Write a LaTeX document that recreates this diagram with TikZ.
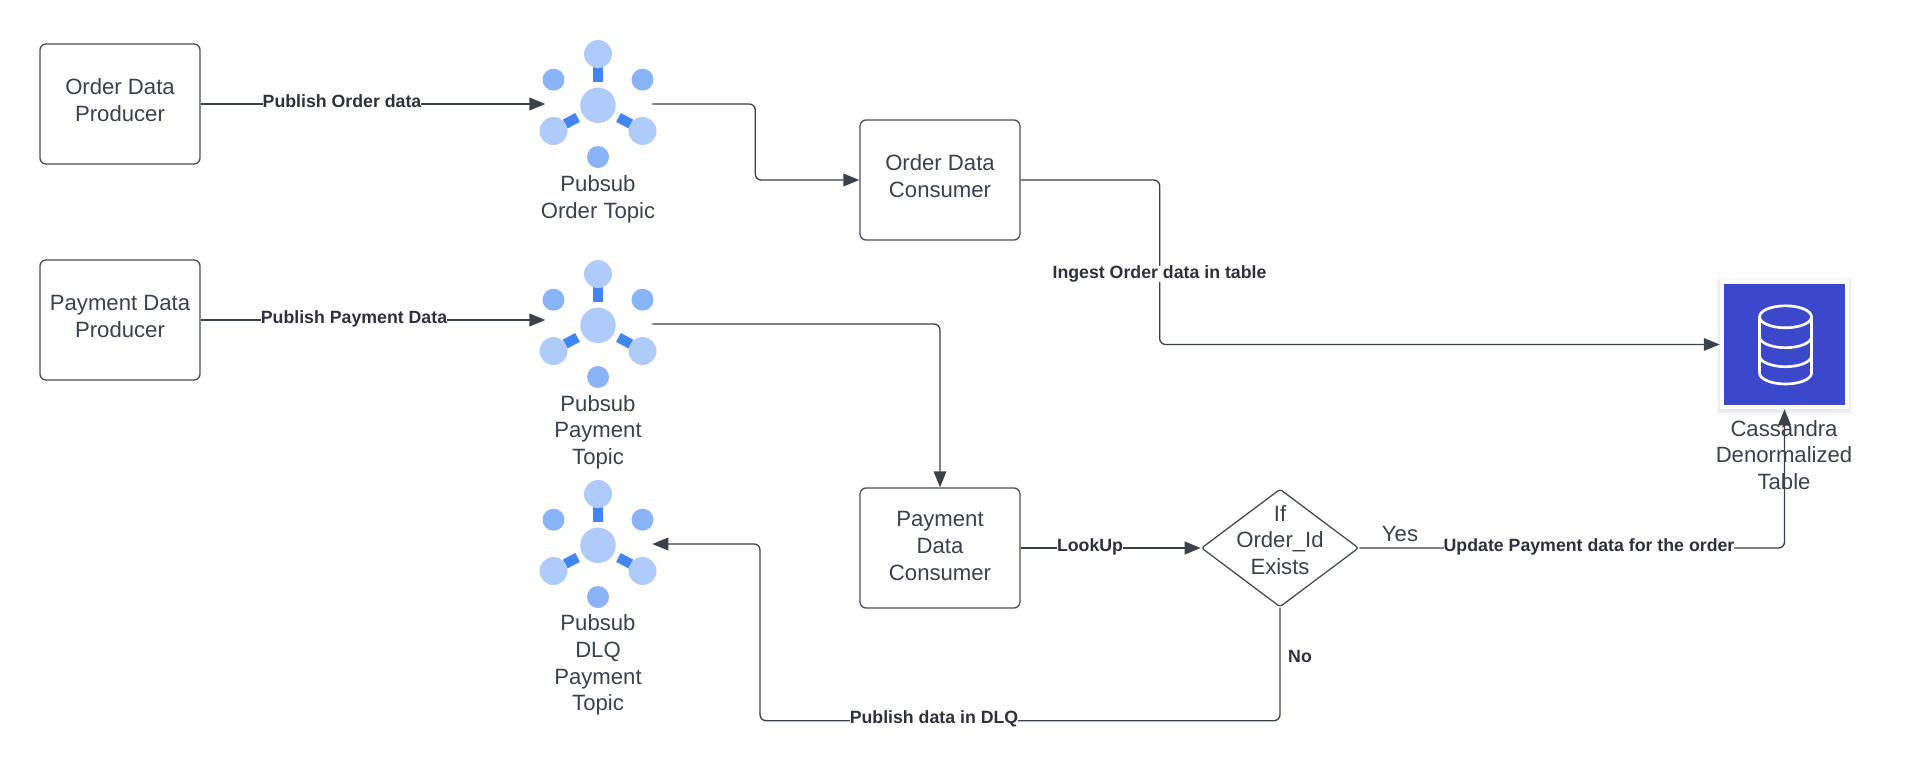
\documentclass[tikz,border=0pt]{standalone}
\usepackage{fontspec}
\setmainfont{Liberation Sans}
\usetikzlibrary{arrows.meta,shapes.geometric,calc}
\definecolor{ink}{HTML}{3A414A}
\definecolor{edgeink}{HTML}{474E57}
\definecolor{lab}{HTML}{2E3138}
\definecolor{hub}{HTML}{AECBFA}
\definecolor{sat}{HTML}{8AB4F8}
\definecolor{bar}{HTML}{4285F4}
\definecolor{dbblue}{HTML}{3B48CC}
\tikzset{
  x=0.75pt,y=-0.75pt,
  procbox/.style={draw=edgeink,line width=1pt,rounded corners=4.5pt,minimum width=120pt,minimum height=90pt,inner sep=0pt,fill=white},
  captext/.style={text=ink,font=\fontsize{16.6}{20}\selectfont,align=center,inner sep=0pt},
  edgetag/.style={text=lab,font=\fontsize{13.3}{15}\selectfont\bfseries,fill=white,inner sep=0pt},
  flowline/.style={draw=ink,line width=1pt,rounded corners=4.5pt,-{Triangle[length=12pt,width=9.5pt]}},
  thickflow/.style={flowline,line width=1.5pt},
  iconbox/.style={minimum width=81pt,minimum height=81pt,inner sep=0pt},
}
\newcommand{\pubsubicon}[3]{%
  \node[iconbox] (#1) at (#2,#3) {};
  \begin{scope}[shift={(#2,#3)}]
    \fill[bar] (-5,-37) rectangle (5,-22);
    \fill[bar,shift={(-26.6,16.7)},rotate=-62] (-5,-7) rectangle (5,7);
    \fill[bar,shift={(26.6,16.7)},rotate=62] (-5,-7) rectangle (5,7);
    \fill[hub] (0,1.3) circle[radius=13.3pt];
    \fill[hub] (0,-50) circle[radius=10.5pt];
    \fill[hub] (-44.5,27) circle[radius=10.5pt];
    \fill[hub] (44.5,27) circle[radius=10.5pt];
    \fill[sat] (-44.5,-24.3) circle[radius=8.25pt];
    \fill[sat] (44.5,-24.3) circle[radius=8.25pt];
    \fill[sat] (0,53) circle[radius=8.25pt];
  \end{scope}}
\begin{document}
\begin{tikzpicture}
\useasboundingbox (0,0) rectangle (1919,771);
% boxes
\node[procbox] (orderprod) at (120,104) {};
\node[procbox] (payprod) at (120,320) {};
\node[procbox] (ordercons) at (940,180) {};
\node[procbox] (paycons) at (940,548) {};
\node[captext] (orderprodt) at (120,100) {Order Data\\Producer};
\node[captext] (payprodt) at (120,316.5) {Payment Data\\Producer};
\node[captext] (orderconst) at (940,176) {Order Data\\Consumer};
\node[captext] (payconst) at (940,546) {Payment\\Data\\Consumer};
% icons
\pubsubicon{ordertopic}{598}{104}
\pubsubicon{paytopic}{598}{324}
\pubsubicon{dlqtopic}{598}{544}
\node[captext] (ordertopict) at (598,199.5) {Pubsub\\Order Topic};
\node[captext] (paytopict) at (598,432) {Pubsub\\Payment\\Topic};
\node[captext] (dlqtopict) at (598,665) {Pubsub\\DLQ\\Payment\\Topic};
% database
\foreach \g/\o in {5/0.008,4/0.012,3/0.016,2/0.02,1/0.025}
  \fill[black,opacity=\o] (1720-\g,281.5-\g) rectangle (1849+\g,410.5+\g);
\node[fill=white,minimum width=96.75pt,minimum height=96.75pt,inner sep=0pt] (db) at (1784.5,344.5) {};
\fill[dbblue] (1724.3,284) rectangle (1845,405);
\begin{scope}[draw=white,line width=2pt]
  \draw (1785.5,316.8) ellipse[x radius=19.5pt,y radius=8.25pt];
  \draw (1759.5,316.8) -- (1759.5,373) arc[start angle=180,end angle=360,x radius=19.5pt,y radius=8.25pt] -- (1811.5,316.8);
  \draw (1759.5,336.7) arc[start angle=180,end angle=360,x radius=19.5pt,y radius=8.25pt];
  \draw (1759.5,355.7) arc[start angle=180,end angle=360,x radius=19.5pt,y radius=8.25pt];
\end{scope}
\node[captext] (dbt) at (1784,455) {Cassandra\\Denormalized\\Table};
% diamond
\node[draw=edgeink,line width=1pt,diamond,aspect=1.333,minimum width=118pt,minimum height=88.5pt,inner sep=0pt,rounded corners=2pt] (check) at (1280,548) {};
\node[captext] (checkt) at (1280,540) {If\\Order\_Id\\Exists};
% connectors
\coordinate (ordertip) at ([xshift=1.2pt]ordertopic.west |- orderprod.east);
\coordinate (paytip) at ([xshift=1.2pt]paytopic.west |- payprod.east);
\draw[thickflow] (orderprod.east) -- (ordertip);
\draw[thickflow] (payprod.east) -- (paytip);
\draw[flowline] (ordertopic.east) -- ++(103,0) |- (ordercons.west);
\draw[flowline] (paytopic.east) -| (paycons.north);
\draw[flowline] (ordercons.east) -- ++(139,0) |- (db.west);
\draw[thickflow] (paycons.east) -- (check.west);
\draw[flowline] (check.east) -| (db.south);
\draw[flowline] (check.south) -- ++(0,113) -- ++(-520,0) |- (dlqtopic.east);
% labels
\node[edgetag] (l1) at (342,101.5) {Publish Order data};
\node[edgetag] (l2) at (354,319) {Publish Payment Data};
\node[edgetag] (l3) at (1159.5,274) {Ingest Order data in table};
\node[edgetag] (l4) at (1090,547) {LookUp};
\node[edgetag] (l5) at (1589,547) {Update Payment data for the order};
\node[edgetag] (l6) at (934,719) {Publish data in DLQ};
\node[edgetag,fill=none] (l7) at (1300,656.5) {No};
\node[captext] (l8) at (1400,534) {Yes};
\end{tikzpicture}
\end{document}
